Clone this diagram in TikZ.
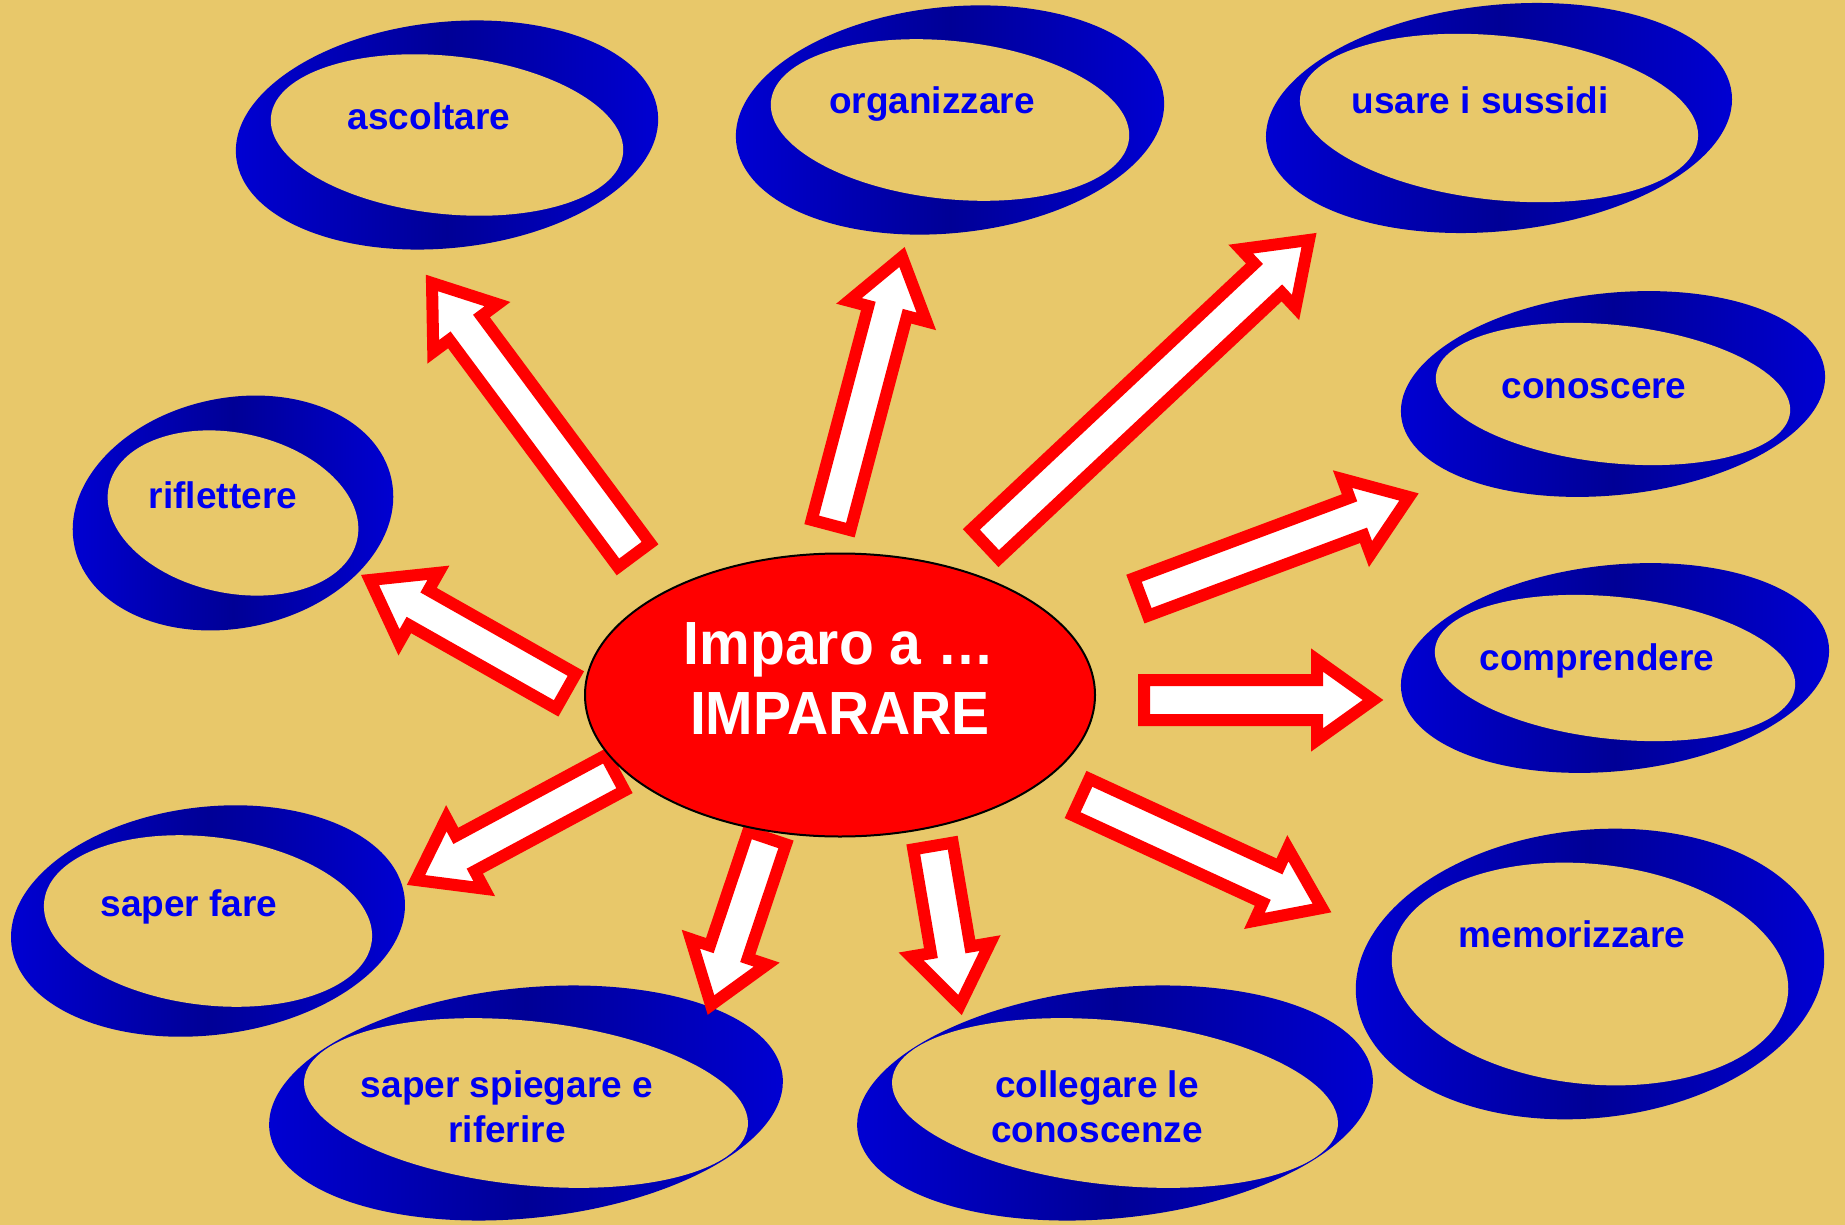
\documentclass[tikz,border=0pt]{standalone}
\usepackage{fontspec}
\setmainfont{Liberation Sans}
\usetikzlibrary{calc,shapes.geometric}
\definecolor{bgtan}{RGB}{232,200,106}
\definecolor{ringL}{RGB}{0,0,212}
\definecolor{ringD}{RGB}{0,0,150}
\definecolor{labelblue}{RGB}{0,0,240}
\definecolor{arrowred}{RGB}{255,0,0}
\newcommand{\ringshape}[7]{%
  \begin{scope}
    \clip[rotate around={#7:(#1,#2)}] (#1,#2) ellipse [x radius=#3pt, y radius=#4pt];
    \shade[left color=ringL, right color=ringL, middle color=ringD]
      ($(#1,#2)+(-#3-6,-#4-6)$) rectangle ($(#1,#2)+(#3+6,#4+6)$);
    \fill[bgtan, rotate around={-#7:(#1,#2)}] (#1,#2) ellipse [x radius=#5pt, y radius=#6pt];
  \end{scope}}
\newcommand{\bArrow}[2]{%
  \coordinate (nk) at ($(#2)!56pt!(#1)$);
  \draw[blockarrow] ($(#1)!20pt!90:(#2)$) -- ($(nk)!20pt!90:(#2)$) -- ($(nk)!40pt!90:(#2)$)
    -- (#2) -- ($(nk)!40pt!-90:(#2)$) -- ($(nk)!20pt!-90:(#2)$) -- ($(#1)!20pt!-90:(#2)$) -- cycle;}
\tikzset{
  blockarrow/.style={draw=arrowred, fill=white, line width=12pt, line join=miter},
  lbl/.style={text=labelblue, font=\fontsize{37}{45}\selectfont\bfseries, anchor=base, inner sep=0pt},
  coretxt/.style={text=white, font=\fontsize{57}{70}\selectfont\bfseries, anchor=base, inner sep=0pt, yscale=1.07, transform shape},
}
\begin{document}
\begin{tikzpicture}[x=1pt,y=-1pt]
\useasboundingbox (0,0) rectangle (1845,1225);
\fill[bgtan] (0,0) rectangle (1845,1225);
% rings
\ringshape{447}{135}{212}{113}{177}{79}{6}
\ringshape{950}{120}{215}{113}{180}{79}{6}
\ringshape{1499}{118}{234}{113}{200}{82}{6}
\ringshape{1613}{394}{213}{101}{178}{69}{6}
\ringshape{1615}{668}{215}{103}{181}{71}{6}
\ringshape{1590}{974}{235}{144}{199}{110}{6}
\ringshape{233}{513}{162}{115}{127}{80}{12}
\ringshape{208}{921}{198}{114}{165}{84}{7}
\ringshape{526}{1103}{258}{115}{223}{82}{6}
\ringshape{1115}{1103}{259}{115}{224}{82}{6}
% labels
\node[lbl] (ascoltare) at (429,130) {ascoltare};
\node[lbl] (organizzare) at (932,114) {organizzare};
\node[lbl] (usare) at (1480,114) {usare i sussidi};
\node[lbl] (conoscere) at (1594,398) {conoscere};
\node[lbl] (comprendere) at (1597,670) {comprendere};
\node[lbl] (memorizzare) at (1572,947) {memorizzare};
\node[lbl] (riflettere) at (223,508) {riflettere};
\node[lbl] (saperfare) at (189,916) {saper fare};
\node[lbl] (spiegare1) at (507,1097) {saper spiegare e};
\node[lbl] (spiegare2) at (507,1142) {riferire};
\node[lbl] (collegare1) at (1097,1097) {collegare le};
\node[lbl] (collegare2) at (1097,1142) {conoscenze};
% arrows
\coordinate (t1) at (634,555);  \coordinate (h1) at (432,283);
\coordinate (t2) at (831,525);  \coordinate (h2) at (902,257);
\coordinate (t3) at (985,544);  \coordinate (h3) at (1309,240);
\coordinate (t4) at (1141,597); \coordinate (h4) at (1409,497);
\coordinate (t5) at (1144,700); \coordinate (h5) at (1373,700);
\coordinate (t6) at (1081,797); \coordinate (h6) at (1322,908);
\coordinate (t7) at (933,846);  \coordinate (h7) at (960,1005);
\coordinate (t8) at (767,838);  \coordinate (h8) at (711,1005);
\coordinate (t9) at (615,773);  \coordinate (h9) at (416,880);
\coordinate (t10) at (566,691); \coordinate (h10) at (370,580);
\bArrow{t1}{h1}
\bArrow{t2}{h2}
\bArrow{t3}{h3}
\bArrow{t4}{h4}
\bArrow{t5}{h5}
\bArrow{t6}{h6}
\bArrow{t7}{h7}
\bArrow{t8}{h8}
\bArrow{t9}{h9}
\bArrow{t10}{h10}
% centre
\node[ellipse, draw=black, line width=2pt, fill=arrowred, minimum width=510pt, minimum height=283pt, inner sep=0pt] (core) at (840,695) {};
\node[coretxt] (imparo) at (839,664) {Imparo a …};
\node[coretxt] (imparare) at (840,734) {IMPARARE};
\end{tikzpicture}
\end{document}
